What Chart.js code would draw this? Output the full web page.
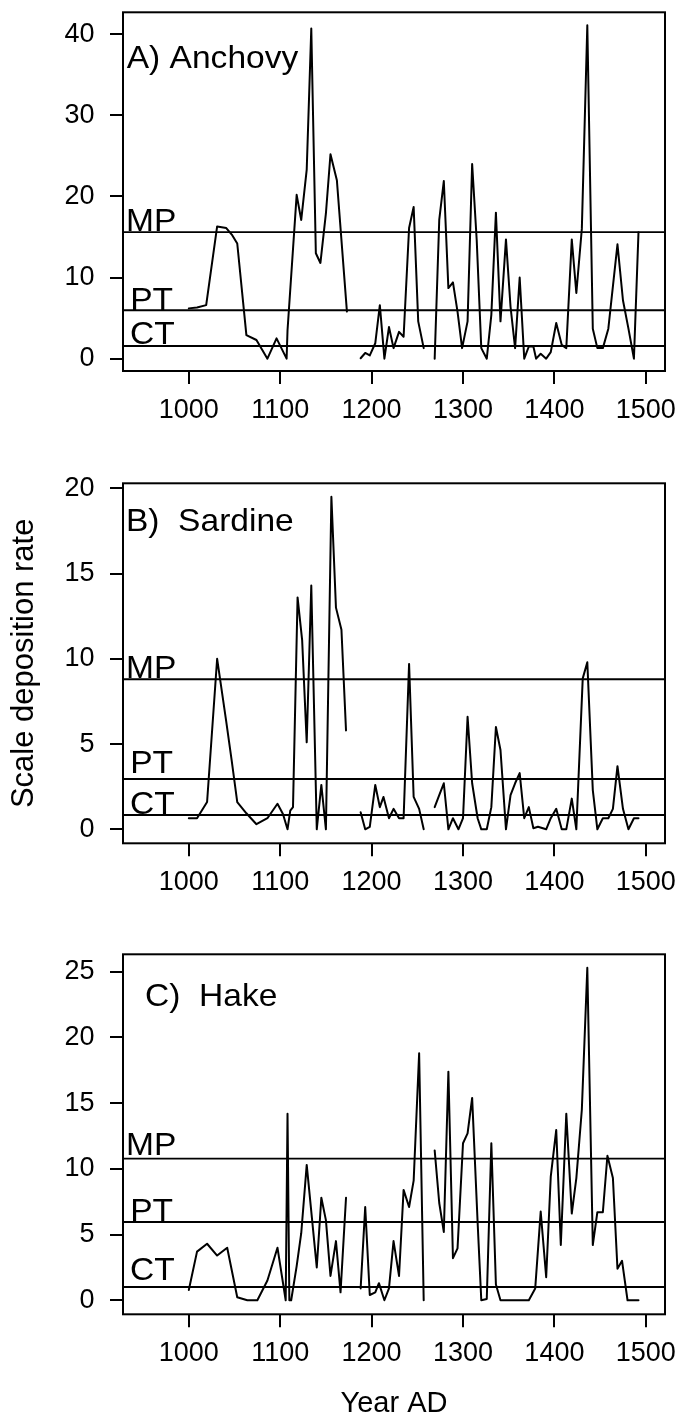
<!DOCTYPE html>
<html><head><meta charset="utf-8">
<script src="https://cdn.jsdelivr.net/npm/chart.js@4.4.1/dist/chart.umd.min.js"></script>
<style>
html,body{margin:0;padding:0;background:#fff;}
#wrap{position:relative;width:681px;height:1418px;overflow:hidden;}
canvas{position:absolute;left:0;}
</style></head><body>
<div id="wrap">
<canvas id="cA" width="681" height="460" style="top:0px;width:681px;height:460px"></canvas>
<canvas id="cB" width="681" height="470" style="top:460px;width:681px;height:470px"></canvas>
<canvas id="cC" width="681" height="488" style="top:930px;width:681px;height:488px"></canvas>
</div>
<script>
// ---------- data ----------
const xTicks = [1000, 1100, 1200, 1300, 1400, 1500];
const xMin = 928, xMax = 1521;
const thresholdNames = ['MP', 'PT', 'CT'];

const anchovyYears = [1000,1009,1019,1031,1041,1047,1053,1063,1074,1086,1096,1107,1108,1118,1123,1129,1134,1139,1144,1150,1155,1162,1173,
  1180,
  1188,1193,1198,1204,1209,1214,1219,1224,1230,1235,1241,1246,1251,1257,
  1263,
  1269,1274,1279,1284,1289,1294,1299,1305,1310,1315,1320,1326,1331,1336,1341,1347,1352,1357,1362,1367,1372,1377,1380,1385,1391,1396,1402,1408,1413,1419,1424,1430,1436,1442,1447,1453,1459,1464,1469,1475,1481,1487,1492];
const anchovyValues = [6.2,6.3,6.6,16.3,16.1,15.3,14.2,2.9,2.3,0,2.5,0,3.5,20.2,17.1,23.3,40.7,13,11.8,17.9,25.2,22,5.8,
  null,
  0.05,0.7,0.4,1.9,6.6,0,3.9,1.3,3.3,2.7,16.1,18.7,4.6,1.3,
  null,
  0,17.1,21.9,8.7,9.4,5.8,1.3,4.6,24,14.6,1.3,0,5.4,18,4.6,14.7,6.4,1.3,10,0,1.5,1.5,0,0.6,0,0.8,4.4,1.7,1.3,14.7,8.1,16,41.1,3.7,1.3,1.3,3.7,8.9,14.1,7.2,3.7,0,15.6];
const anchovyThresholds = [15.6, 5.97, 1.57];
const anchovyTicks = [0, 10, 20, 30, 40];

const sardineYears = [1000,1009,1020,1031,1041,1047,1053,1063,1074,1086,1097,1103,1108,1111,1114,1119,1124,1129,1134,1140,1145,1150,1156,1161,1167,1172,
  1180,
  1188,1193,1198,1204,1209,1213,1219,1224,1230,1235,1241,1246,1252,1257,
  1263,
  1269,1274,1279,1284,1289,1295,1300,1305,1310,1316,1320,1326,1331,1336,1341,1347,1352,1357,1362,1367,1372,1377,1382,1391,1396,1402,1408,1413,1419,1424,1431,1436,1442,1447,1453,1459,1464,1469,1475,1481,1487,1492];
const sardineValues = [0.65,0.65,1.6,10.0,6.3,4.0,1.6,0.94,0.3,0.65,1.5,0.9,0,1.1,1.3,13.6,11.1,5.1,14.3,0,2.6,0,19.5,13.0,11.7,5.8,
  null,
  1.0,0,0.15,2.6,1.3,1.9,0.65,1.2,0.65,0.65,9.7,1.9,1.2,0,
  null,
  1.3,2.0,2.7,0,0.65,0,0.65,6.6,2.7,0.65,0,0,1.3,6.0,4.65,0,2.0,2.7,3.3,0.65,1.3,0.06,0.15,0,0.65,1.2,0,0,1.8,0,8.85,9.8,2.3,0,0.65,0.65,1.2,3.7,1.2,0,0.65,0.65];
const sardineThresholds = [8.8, 2.95, 0.84];
const sardineTicks = [0, 5, 10, 15, 20];

const hakeYears = [1000,1009,1020,1031,1042,1053,1064,1075,1086,1097,1106,1108,1110,1112,1118,1123,1129,1140,1145,1150,1155,1161,1166,1172,
  1180,
  1188,1193,1198,1204,1208,1214,1219,1224,1230,1235,1241,1246,1252,1257,
  1263,
  1269,1274,1279,1284,1289,1294,1300,1305,1310,1316,1320,1326,1331,1336,1341,1347,1352,1357,1362,1367,1372,1379,1385,1391,1396,1402,1407,1413,1419,1424,1430,1436,1442,1447,1453,1458,1464,1469,1474,1480,1486,1492];
const hakeValues = [0.78,3.7,4.3,3.4,4.0,0.23,0,0,1.5,4.0,0,14.2,0,0,2.6,5.1,10.3,2.5,7.8,6.1,1.85,4.5,0.6,7.8,
  null,
  0.9,7.1,0.4,0.6,1.3,0,0.9,4.5,1.85,8.4,7.1,9.1,18.8,0,
  null,
  11.4,7.4,5.2,17.4,3.2,3.95,11.95,12.7,15.4,5.9,0,0.1,11.95,1.2,0,0,0,0,0,0,0,0.9,6.75,1.75,9.4,12.96,4.2,14.2,6.6,9.3,14.5,25.3,4.2,6.7,6.7,11.0,9.3,2.4,3.0,0,0,0];
const hakeThresholds = [10.78, 5.96, 1.01];
const hakeTicks = [0, 5, 10, 15, 20, 25];

// ---------- drawing ----------
const FONT = '"Liberation Sans", Arial, Helvetica, sans-serif';
Chart.defaults.font.family = FONT;
Chart.defaults.color = '#000';

function wideText(ctx, text, x, y, sx) {
  ctx.save();
  ctx.translate(x, y);
  ctx.scale(sx, 1);
  ctx.fillText(text, 0, 0);
  ctx.restore();
}

const decorPlugin = {
  id: 'decor',
  afterDatasetsDraw(chart, args, o) {
    const {ctx, chartArea: a, scales} = chart;
    ctx.save();
    ctx.lineWidth = 2;
    ctx.strokeStyle = '#000';
    ctx.strokeRect(a.left, a.top, a.right - a.left, a.bottom - a.top);
    ctx.fillStyle = '#000';
    ctx.textAlign = 'left';
    ctx.textBaseline = 'alphabetic';
    ctx.font = '30.5px ' + FONT;
    o.thresholds.forEach((t, i) => {
      const y = scales.y.getPixelForValue(t) - o.lift[i];
      wideText(ctx, thresholdNames[i], a.left + o.dx[i], y, 1.1);
    });
    ctx.font = '30.5px ' + FONT;
    wideText(ctx, o.title, a.left + o.titleDx, a.top + o.titleDy, 1.1);
    ctx.restore();
  }
};

function series(years, values) {
  return years.map((yr, i) => ({x: yr, y: values[i]}));
}
function hline(v) {
  return [{x: xMin, y: v}, {x: xMax, y: v}];
}

function makeChart(id, years, values, thresholds, yTicks, yMin, yMax, cfg) {
  const datasets = [{
    data: series(years, values), borderColor: '#000', borderWidth: 2,
    pointRadius: 0, spanGaps: false, borderJoinStyle: 'round', borderCapStyle: 'round', tension: 0
  }];
  thresholds.forEach(t => datasets.push({
    data: hline(t), borderColor: '#000', borderWidth: 1.9, pointRadius: 0, tension: 0
  }));
  return new Chart(document.getElementById(id), {
    type: 'line',
    data: {datasets},
    plugins: [decorPlugin],
    options: {
      responsive: false,
      animation: false,
      events: [],
      layout: {padding: {top: cfg.padTop, right: 16, left: 0, bottom: 0}},
      plugins: {
        legend: {display: false},
        tooltip: {enabled: false},
        decor: {thresholds, lift: cfg.lift, dx: [3, 7.2, 7.1], title: cfg.title, titleDx: cfg.titleDx, titleDy: cfg.titleDy}
      },
      scales: {
        x: {
          type: 'linear', min: xMin, max: xMax,
          afterBuildTicks: s => { s.ticks = xTicks.map(v => ({value: v})); },
          afterFit: s => { s.height = cfg.xAxisH; s.paddingLeft = 0; s.paddingRight = 0; },
          grid: {drawOnChartArea: false, drawTicks: true, tickLength: 13, color: '#000', lineWidth: 2},
          border: {display: false},
          ticks: {font: {size: 27}, padding: 10, color: '#000', autoSkip: false, maxRotation: 0, minRotation: 0,
                  callback: v => String(v)},
          title: cfg.xTitle ? {display: true, text: cfg.xTitle, color: '#000', font: {size: 29, lineHeight: 1}, padding: {top: 0, bottom: 0}} : {display: false}
        },
        y: {
          type: 'linear', min: yMin, max: yMax,
          afterBuildTicks: s => { s.ticks = yTicks.map(v => ({value: v})); },
          afterFit: s => { s.width = 123; s.paddingTop = 0; s.paddingBottom = 0; },
          grid: {drawOnChartArea: false, drawTicks: true, tickLength: 13, color: '#000', lineWidth: 2},
          border: {display: false},
          ticks: {font: {size: 27}, padding: 15.5, color: '#000', autoSkip: false, callback: v => String(v)},
          title: cfg.yTitle ? {display: true, text: cfg.yTitle, color: '#000', font: {size: 31, lineHeight: 1}, padding: {top: 8.5, bottom: 0}} : {display: false}
        }
      }
    }
  });
}

makeChart('cA', anchovyYears, anchovyValues, anchovyThresholds, anchovyTicks, -1.52, 42.7,
  {padTop: 12.3, xAxisH: 89, lift: [1.3, 0.3, 1.7], title: 'A) Anchovy', titleDx: 3.7, titleDy: 56});
makeChart('cB', sardineYears, sardineValues, sardineThresholds, sardineTicks, -0.82, 20.29,
  {padTop: 23.3, xAxisH: 86.7, lift: [1.3, 6, 1], title: 'B)  Sardine', titleDx: 2.9, titleDy: 47.7, yTitle: 'Scale deposition rate'});
makeChart('cC', hakeYears, hakeValues, hakeThresholds, hakeTicks, -1.07, 26.33,
  {padTop: 24.3, xAxisH: 103.7, lift: [3.7, 1.3, 7], title: 'C)  Hake', titleDx: 22, titleDy: 51.7, xTitle: 'Year AD'});
</script>
</body></html>
